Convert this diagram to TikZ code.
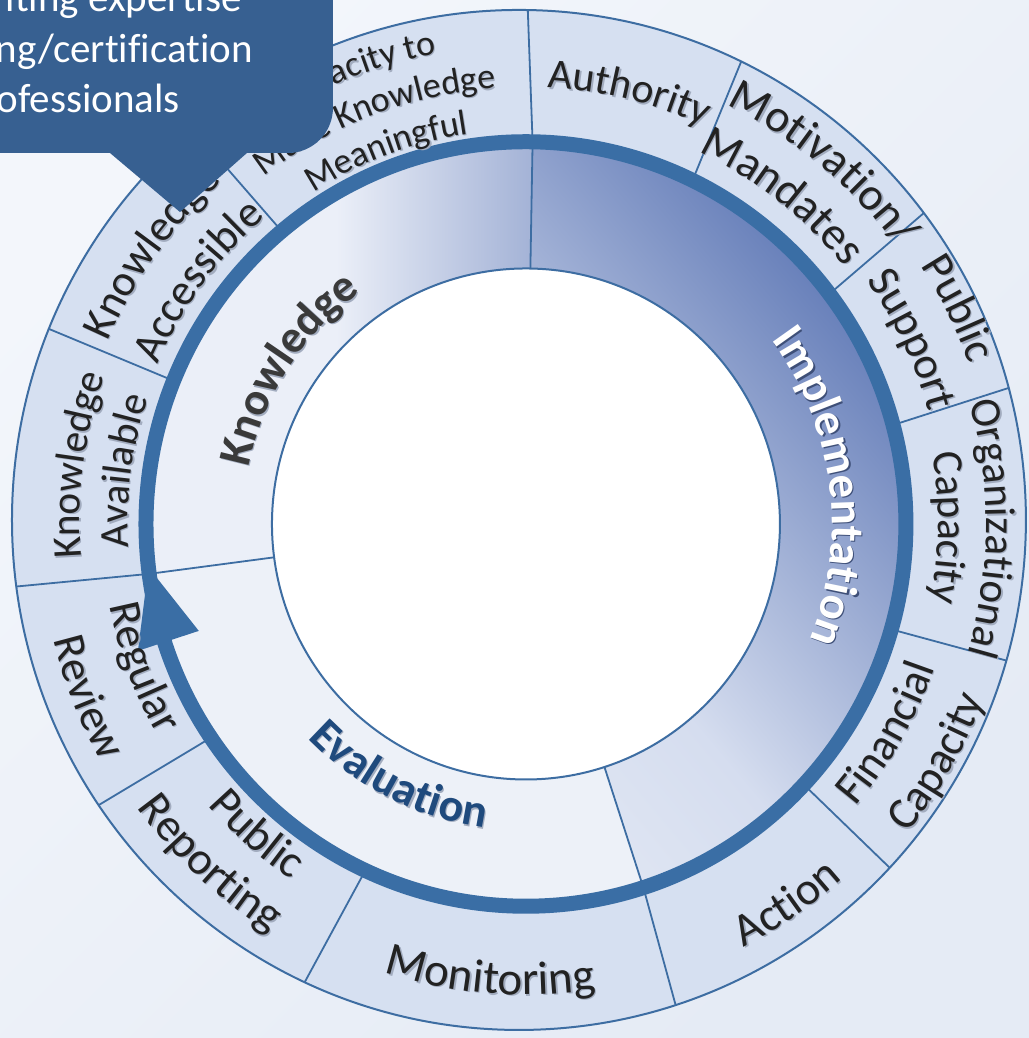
\documentclass[tikz,border=0pt]{standalone}
\usepackage{fontspec}
\newfontfamily\carl[Ligatures=NoCommon]{Carlito}
\usetikzlibrary{decorations.text}
\definecolor{bgA}{HTML}{F3F6FB}
\definecolor{bgB}{HTML}{E5EBF5}
\definecolor{ringc}{HTML}{D6E0F1}
\definecolor{linec}{HTML}{3D6DA2}
\definecolor{bandc}{HTML}{3A6EA5}
\definecolor{knowL}{HTML}{EBEFF8}
\definecolor{knowD}{HTML}{A3B2D6}
\definecolor{impD}{HTML}{6880BA}
\definecolor{impM}{HTML}{D5DDEF}
\definecolor{evalc}{HTML}{EDF1F8}
\definecolor{callc}{HTML}{376091}
\definecolor{txtc}{HTML}{222222}
\definecolor{shadc}{HTML}{A2ACBF}
\definecolor{knowtxt}{HTML}{3A3A3A}
\definecolor{evaltxt}{HTML}{1F4A7D}
\definecolor{impshad}{HTML}{3E4F78}
% label with letter tops pointing outward (path runs clockwise)
\newcommand\lblout[6]{%
  \def\curfnt{#3}%
  \path[shift={(1.3,-1.3)},decorate,decoration={text along path,text align=center,text={|\curfnt\color{#5}|#6}}]
    ({#2+70}:#1) arc[start angle={#2+70},end angle={#2-70},radius=#1];
  \path[decorate,decoration={text along path,text align=center,text={|\curfnt\color{#4}|#6}}]
    ({#2+70}:#1) arc[start angle={#2+70},end angle={#2-70},radius=#1];}
% label with letter tops pointing inward (path runs counter-clockwise)
\newcommand\lblin[6]{%
  \def\curfnt{#3}%
  \path[shift={(1.3,-1.3)},decorate,decoration={text along path,text align=center,text={|\curfnt\color{#5}|#6}}]
    ({#2-70}:#1) arc[start angle={#2-70},end angle={#2+70},radius=#1];
  \path[decorate,decoration={text along path,text align=center,text={|\curfnt\color{#4}|#6}}]
    ({#2-70}:#1) arc[start angle={#2-70},end angle={#2+70},radius=#1];}
\def\fs#1{\carl\fontsize{#1}{#1}\selectfont}
\begin{document}
\begin{tikzpicture}[x=1pt,y=1.006pt]
\useasboundingbox (-526,-511) rectangle (503,520.9);
\clip (-526,-511) rectangle (503,520.9);
\coordinate (C) at (0,0);
\coordinate (O) at (-7,4);
% background
\shade[top color=bgA,bottom color=bgB,shading angle=45] (-526,-511) rectangle (503,520.9);
% outer ring
\fill[ringc] (O) circle (507);
% middle ring: Evaluation
\fill[evalc] (187.5:380) arc[start angle=187.5,end angle=288,radius=380] -- (288:254) arc[start angle=288,end angle=187.5,radius=254] -- cycle;
% Knowledge
\fill[knowL] (89:380) arc[start angle=89,end angle=187.5,radius=380] -- (187.5:254) arc[start angle=187.5,end angle=89,radius=254] -- cycle;
\begin{scope}
  \clip (89:380) arc[start angle=89,end angle=187.5,radius=380] -- (187.5:254) arc[start angle=187.5,end angle=89,radius=254] -- cycle;
  \shade[left color=knowL,right color=knowD] (-190,150) rectangle (8,400);
\end{scope}
% Implementation
\begin{scope}
  \clip (89:380) arc[start angle=89,end angle=-72,radius=380] -- (-72:254) arc[start angle=-72,end angle=89,radius=254] -- cycle;
  \shade[top color=impD,bottom color=evalc,middle color=impM,shading angle=-50] (C) circle (380);
\end{scope}
% inner circle
\fill[white] (C) circle (254);
% separators
\foreach \a in {89,130,158,187.5,214,245,288,317,344,15,37,64}
  \draw[linec,line width=1.8] (\a:380) -- ([shift={(O)}]\a:507);
\foreach \a in {89,187.5,288}
  \draw[linec,line width=1.8] (\a:254) -- (\a:380);
\draw[linec,line width=2] (O) circle (507);
\draw[linec,line width=2] (C) circle (254);
% thick cycle band and arrow head
\draw[bandc,line width=15] (C) circle (380);
\fill[bandc] (186.5:380) -- (198:408) -- (198:344) -- cycle;
% outer ring labels
\lblout{476}{110.5}{\fs{36}}{txtc}{shadc}{Capacity to}
\lblout{434}{110.5}{\fs{36}}{txtc}{shadc}{Make Knowledge}
\lblout{392}{110.5}{\fs{36}}{txtc}{shadc}{Meaningful}
\lblout{456}{144}{\fs{44}}{txtc}{shadc}{Knowledge}
\lblout{401}{143.5}{\fs{44}}{txtc}{shadc}{Accessible}
\lblout{446}{172.5}{\fs{41}}{txtc}{shadc}{Knowledge}
\lblout{398}{172.5}{\fs{41}}{txtc}{shadc}{Available}
\lblin{424}{200.5}{\fs{45}}{txtc}{shadc}{Regular}
\lblin{486}{201.5}{\fs{45}}{txtc}{shadc}{Review}
\lblin{424}{229}{\fs{46}}{txtc}{shadc}{Public}
\lblin{480}{227}{\fs{46}}{txtc}{shadc}{Reporting}
\lblin{468}{265.5}{\fs{47}}{txtc}{shadc}{Monitoring}
\lblin{474}{304.5}{\fs{46}}{txtc}{shadc}{Action}
\lblin{433}{330}{\fs{45}}{txtc}{shadc}{Financial}
\lblin{490}{330}{\fs{45}}{txtc}{shadc}{Capacity}
\lblout{460}{-0.5}{\fs{43}}{txtc}{shadc}{Organizational}
\lblout{412}{-0.5}{\fs{43}}{txtc}{shadc}{Capacity}
\lblout{471}{26.5}{\fs{45}}{txtc}{shadc}{Public}
\lblout{418}{25.5}{\fs{45}}{txtc}{shadc}{Support}
\lblout{462}{50.5}{\fs{46}}{txtc}{shadc}{Motivation/}
\lblout{408}{52}{\fs{46}}{txtc}{shadc}{Mandates}
\lblout{434}{76.5}{\fs{42}}{txtc}{shadc}{Authority}
% middle ring labels
\lblout{283}{147}{\fs{46}\bfseries}{knowtxt}{shadc}{Knowledge}
\lblout{306}{7.3}{\fs{47}\bfseries}{white}{impshad}{Implementation}
\lblin{305}{243.3}{\fs{46}\bfseries}{evaltxt}{shadc}{Evaluation}
% callout
\fill[callc] (-560,560) -- (-193,560) -- (-193,413.8) arc[start angle=0,end angle=-90,x radius=45,y radius=45]
  -- (-279,368.8) -- (-346,310.1) -- (-416,368.8) -- (-560,368.8) -- cycle;
\node[anchor=base east,inner sep=0,text=white,font=\fs{41}] (c1) at (-284,509) {iting expertise};
\node[anchor=base east,inner sep=0,text=white,font=\fs{41}] (c2) at (-273,459.2) {ng/certification};
\node[anchor=base east,inner sep=0,text=white,font=\fs{41}] (c3) at (-346,409.5) {ofessionals};
\end{tikzpicture}
\end{document}
